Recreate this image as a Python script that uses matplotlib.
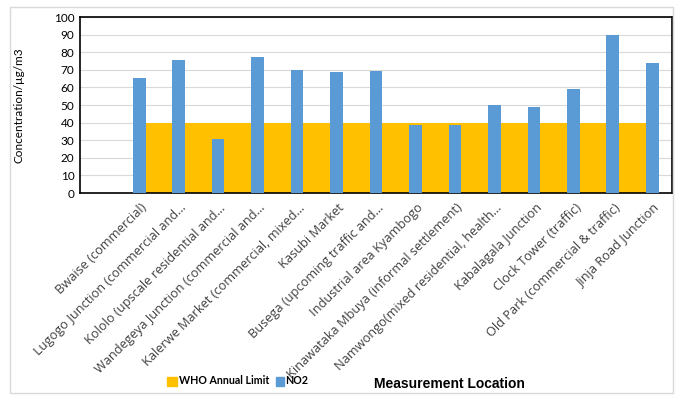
import numpy as np
import matplotlib.pyplot as plt
from matplotlib.patches import Rectangle

# 采样点名称（Excel 截断的标签保留省略号）
locations = ['Bwaise (commercial)',
             'Lugogo Junction (commercial and…',
             'Kololo (upscale residential and…',
             'Wandegeya Junction (commercial and…',
             'Kalerwe Market (commercial, mixed…',
             'Kasubi Market',
             'Busega (upcoming traffic and…',
             'Industrial area Kyambogo',
             'Kinawataka Mbuya (informal settlement)',
             'Namwongo(mixed residential, health…',
             'Kabalagala Junction',
             'Clock Tower (traffic)',
             'Old Park (commercial & traffic)',
             'Jinja Road Junction']
no2 = [65.6, 75.7, 30.4, 77.5, 70.0, 68.8, 69.4, 38.6, 38.6, 50.0, 48.9, 59.1, 89.9, 74.1]
who_limit = [40] * len(locations)
yticks = list(range(0, 101, 10))

plt.rcParams['font.family'] = ['Lato', 'DejaVu Sans']

fig = plt.figure(figsize=(6.75, 3.96), dpi=100)
ax = fig.add_axes([80 / 675, 1 - 193 / 396, 592 / 675, 176 / 396])

# 第一个类别为空，数据从位置1开始
x = np.arange(1, len(locations) + 1)
ax.fill_between(x, 0, who_limit, color='#FFC000', linewidth=0, zorder=2)
ax.bar(x, no2, width=0.32, color='#5B9BD5', zorder=3)

ax.set_xlim(-0.5, len(locations) + 0.5)
ax.set_ylim(0, 100)
ax.set_yticks(yticks)
ax.set_yticklabels([str(t) for t in yticks], fontsize=8.5)
ax.yaxis.grid(True, color='#D9D9D9', linewidth=0.8, zorder=0)
ax.set_axisbelow(True)
ax.tick_params(length=0, pad=4)

ax.set_xticks(x + 0.03)
ax.set_xticklabels(locations, rotation=45, ha='right', va='top',
                   rotation_mode='anchor', fontsize=9.2, color='#404040',
                   family='Open Sans')
ax.tick_params(axis='x', pad=6)

for s in ax.spines.values():
    s.set_color('black')
    s.set_linewidth(1.2)

ax.set_ylabel('Concentration/µg/m3', fontsize=8.5)
ax.yaxis.set_label_coords((25 - 80) / 592, 0.5)

fig.text(449 / 675, 1 - 384 / 396, 'Measurement Location', family='Liberation Sans',
         fontweight='bold', fontsize=10, ha='center', va='center')

# 图例手动放置在左下
ly = 1 - 381 / 396
fig.patches.append(Rectangle((167 / 675, ly - 4.5 / 396), 10 / 675, 9 / 396,
                             transform=fig.transFigure, color='#FFC000'))
fig.text(179 / 675, ly, 'WHO Annual Limit', fontsize=7.7, fontweight='bold', va='center')
fig.patches.append(Rectangle((276 / 675, ly - 4.5 / 396), 8 / 675, 9 / 396,
                             transform=fig.transFigure, color='#5B9BD5'))
fig.text(285 / 675, ly, 'NO2', fontsize=7.7, fontweight='bold', va='center')

# 图表外框
fig.patches.append(Rectangle((10 / 675, 3 / 396), 663 / 675, 386 / 396, transform=fig.transFigure,
                             fill=False, edgecolor='#D9D9D9', linewidth=1))

fig.savefig('out.png', dpi=100)
